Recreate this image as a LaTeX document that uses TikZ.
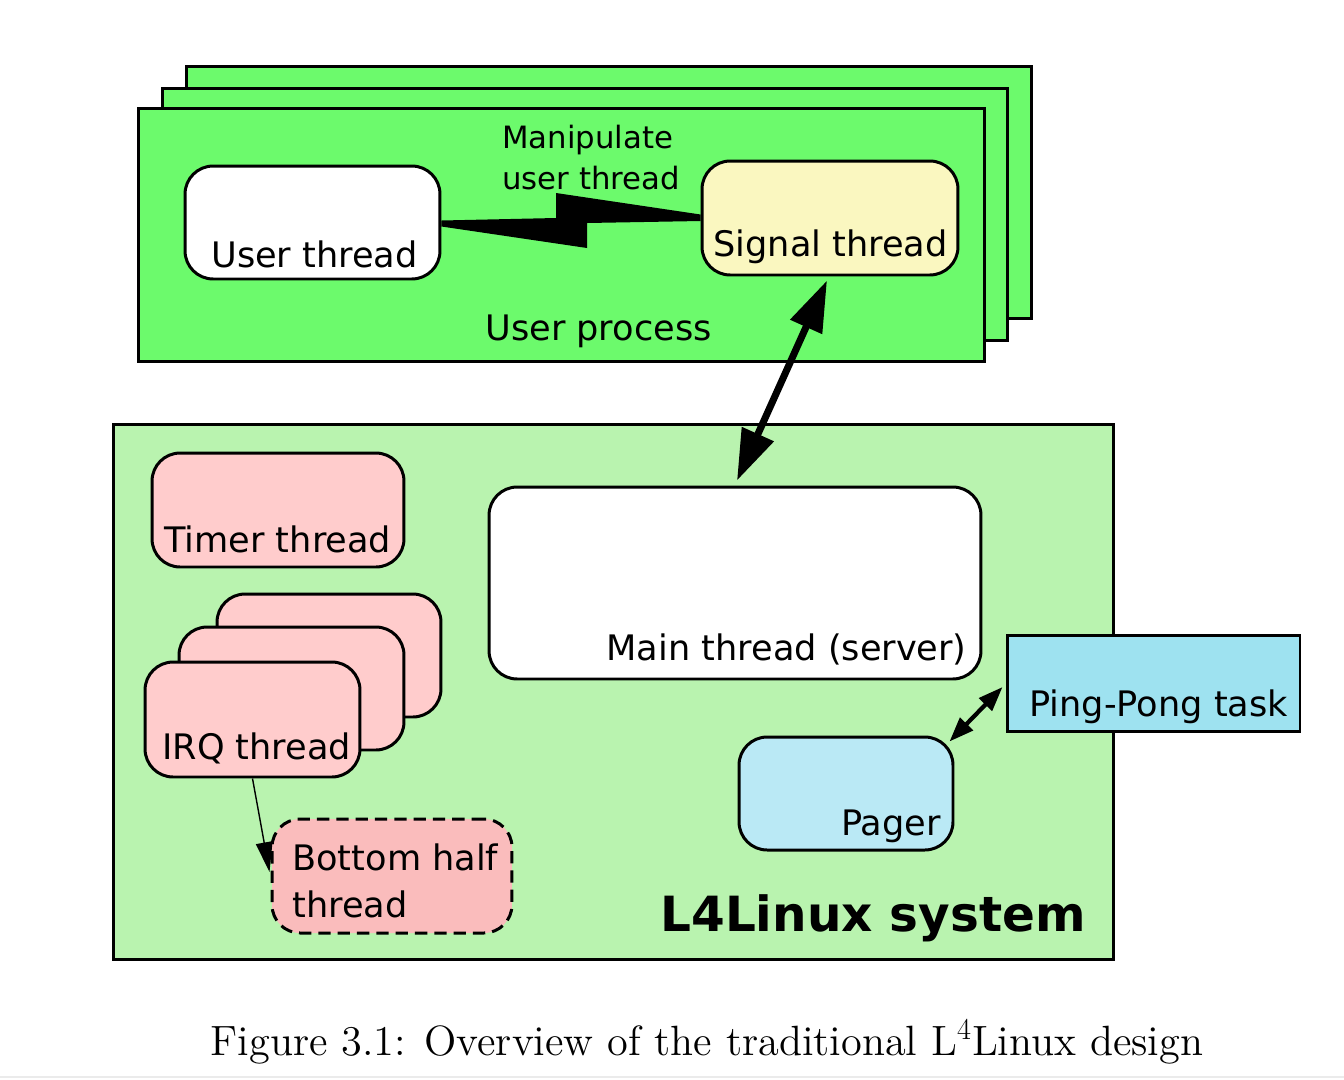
\documentclass[tikz,border=0pt]{standalone}
\usepackage{fontspec}
\usetikzlibrary{arrows.meta, calc}
\newfontfamily\dejavu{DejaVu Sans}
\newfontfamily\capfont{lmroman12-regular.otf}

\definecolor{procgreen}{RGB}{108,250,108}
\definecolor{sysgreen}{RGB}{185,243,175}
\definecolor{threadpink}{RGB}{255,204,204}
\definecolor{halfpink}{RGB}{250,188,188}
\definecolor{signalyellow}{RGB}{250,247,192}
\definecolor{pagerblue}{RGB}{186,233,245}
\definecolor{pingblue}{RGB}{158,226,240}

\tikzset{
   procbox/.style={draw, line width=1.7pt, fill=procgreen, minimum width=16.92cm, minimum height=5.06cm, inner sep=0pt},
   thread/.style={draw, line width=1.7pt, rounded corners=16pt, inner sep=0pt},
   lbl/.style={font=\dejavu\fontsize{20}{24}\selectfont, inner sep=0pt},
   bigarrow/.style={line width=4pt, {Triangle[length=29pt,width=19pt]}-{Triangle[length=29pt,width=19pt]}},
}

\begin{document}
\begin{tikzpicture}[x=0.02cm, y=-0.02cm]

   \useasboundingbox (0,0) rectangle (1344,1079);

   % ユーザプロセス
   \node [procbox] (proc3) at (609,192.5) {};
   \node [procbox] (proc2) at (585,214.5) {};
   \node [procbox] (proc) at (561.5,235) {};
   \node [lbl, anchor=base west] (tproc) at (485,340) {User process};

   \node [thread, fill=white, minimum width=5.1cm, minimum height=2.26cm] (user) at (312.5,222.5) {};
   \node [lbl, anchor=base west] (tuser) at (211,267.5) {User thread};
   \node [thread, fill=signalyellow, minimum width=5.12cm, minimum height=2.28cm] (signal) at (830,218) {};
   \node [lbl, anchor=base west] (tsignal) at (713,256.5) {Signal thread};

   \node [lbl, anchor=base west, align=left, font=\dejavu\fontsize{17.5}{23.2}\selectfont] (tmanip) at (502,189) {Manipulate\\user thread};

   % 稲妻
   \fill ($(user.east)+(0,-2)$) -- (556,218) -- (556,193) -- ($(signal.west)+(0,-3.5)$)
      -- ($(signal.west)+(0,3)$) -- (587,223) -- (587,248) -- ($(user.east)+(0,4)$) -- cycle;

   % L4Linuxシステム
   \node [draw, line width=1.7pt, fill=sysgreen, minimum width=20.02cm, minimum height=10.72cm, inner sep=0pt] (sys) at (613.5,692) {};
   \node [anchor=base east, inner sep=0pt, font=\dejavu\bfseries\fontsize{27.6}{32}\selectfont] (tsys) at (1086,931) {L4Linux system};

   \node [thread, fill=threadpink, minimum width=5.04cm, minimum height=2.28cm] (timer) at (278,510) {};
   \node [lbl, anchor=base west] (ttimer) at (164,552.5) {Timer thread};

   \node [thread, fill=threadpink, minimum width=4.48cm, minimum height=2.46cm] (irqc) at (329,655.5) {};
   \node [thread, fill=threadpink, minimum width=4.5cm, minimum height=2.46cm] (irqb) at (291.5,688.5) {};
   \node [thread, fill=threadpink, minimum width=4.3cm, minimum height=2.3cm] (irq) at (252.5,719.5) {};
   \node [lbl, anchor=base west] (tirq) at (162,759.5) {IRQ thread};

   \node [thread, dashed, dash pattern=on 7pt off 4pt, fill=halfpink, minimum width=4.8cm, minimum height=2.28cm] (bh) at (392,876) {};
   \node [lbl, anchor=base west, align=left, font=\dejavu\fontsize{20}{26.5}\selectfont] (tbh) at (292,917) {Bottom half\\thread};

   \node [thread, fill=white, minimum width=9.84cm, minimum height=3.84cm] (main) at (735,583) {};
   \node [lbl, anchor=base east] (tmain) at (967,660) {Main thread (server)};

   \node [thread, fill=pagerblue, minimum width=4.28cm, minimum height=2.26cm] (pager) at (846,793.5) {};
   \node [lbl, anchor=base east] (tpager) at (941,835) {Pager};

   \node [draw, line width=1.7pt, fill=pingblue, minimum width=5.86cm, minimum height=1.92cm, inner sep=0pt] (ping) at (1153.5,683) {};
   \node [lbl, anchor=base west] (tping) at (1029,716.5) {Ping-Pong task};

   % 矢印
   \draw [bigarrow] ($(signal.south)+(-3,4)$) -- ($(main.north)+(2,-5)$);
   \draw [line width=2.4pt, {Triangle[length=14pt,width=10pt]}-{Triangle[length=14pt,width=10pt]}] ($(pager.north east)+(-5,6)$) -- ($(ping.west)+(-3,4)$);
   \draw [line width=0.8pt, -{Triangle[length=17pt,width=9.5pt]}] (irq.south) -- ($(bh.west)+(-1,-4)$);

   % キャプション
   \node [anchor=base, inner sep=0pt, font=\capfont\fontsize{24.1}{29}\selectfont] (caption) at (707,1055) {Figure 3.1: Overview of the traditional L$^4$Linux design};
   \draw [black!8, line width=0.8pt] (0,1077) -- (1344,1077);

\end{tikzpicture}
\end{document}
